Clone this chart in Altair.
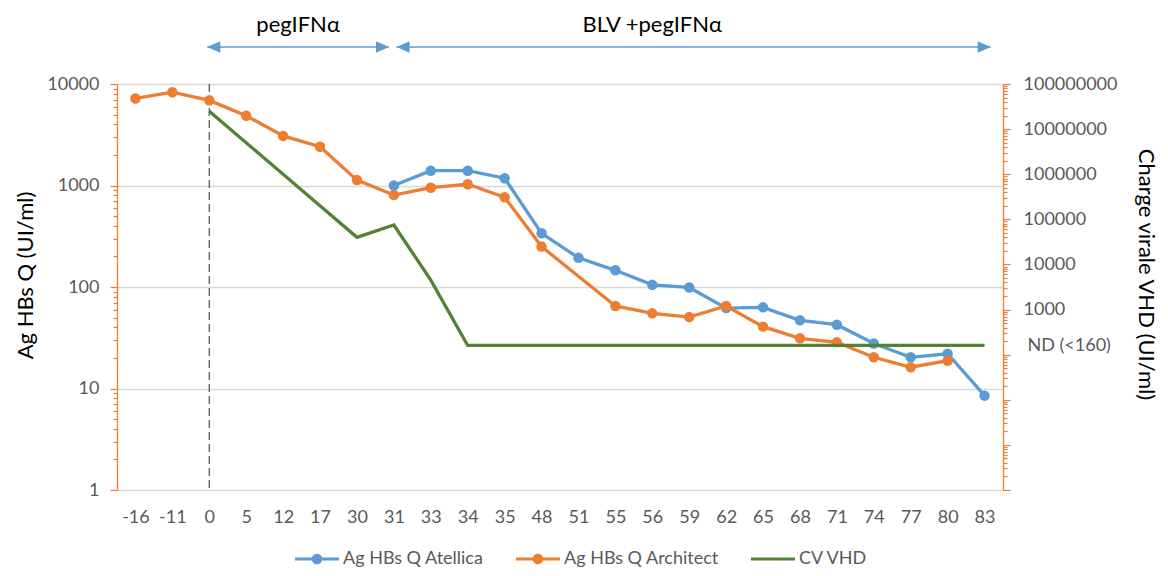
import altair as alt
import pandas as pd

# ---------------- data ----------------
categories = ["-16", "-11", "0", "5", "12", "17", "30", "31", "33", "34", "35", "48",
              "51", "55", "56", "59", "62", "65", "68", "71", "74", "77", "80", "83"]

series_names = ["Ag HBs Q Atellica", "Ag HBs Q Architect", "CV VHD"]

atellica_weeks = ["31", "33", "34", "35", "48", "51", "55", "56", "59", "62", "65",
                  "68", "71", "74", "77", "80", "83"]
atellica_vals = [1000, 1400, 1400, 1180, 338, 194, 146, 105, 99, 62, 63,
                 47, 42.5, 27.7, 20.3, 22, 8.5]

architect_weeks = ["-16", "-11", "0", "5", "12", "17", "30", "31", "33", "34", "35",
                   "48", "55", "56", "59", "62", "65", "68", "71", "74", "77", "80"]
architect_vals = [7200, 8300, 6900, 4870, 3080, 2410, 1130, 806, 952, 1028, 765,
                  250, 65, 55, 50.5, 65, 40.7, 31.2, 28.5, 20.3, 16.2, 18.8]

cv_weeks = ["0", "30", "31", "33", "34", "35", "48", "51", "55", "56", "59", "62",
            "65", "68", "71", "74", "77", "80", "83"]
cv_vals = [25000000, 40000, 75000, 4500, 160, 160, 160, 160, 160, 160, 160, 160,
           160, 160, 160, 160, 160, 160, 160]

start_week = "0"
phase_labels = ["pegIFNα", "BLV +pegIFNα"]
phase_label_weeks = ["12", "56"]
phase_label_dx = [15, 0]
arrow_starts = ["0", "31"]
arrow_ends = ["31", "83"]

left_major = [1, 10, 100, 1000, 10000]
right_major = [0.1, 1, 10, 100, 1000, 10000, 100000, 1000000, 10000000, 100000000]
minor_mult = [2, 3, 4, 5, 6, 7, 8, 9]
nd_value = 160
nd_label = "ND (<160)"

# ---------------- style ----------------
BLUE = "#5B9BD5"
ORANGE = "#ED7D31"
GREEN = "#548235"
GREY = "#595959"
FONT = "Lato"
W, H = 886, 406

left_ticks = list(left_major)
for d in left_major[:-1]:
    left_ticks += [d * m for m in minor_mult]
right_ticks = list(right_major)
for d in right_major[:-1]:
    right_ticks += [d * m for m in minor_mult]
right_ticks.append(nd_value)

dec = "abs(log(datum.value)/LN10 - round(log(datum.value)/LN10)) < 0.001"

x_scale = alt.Scale(type="point", domain=categories, padding=0.5)
x_axis = alt.Axis(title=None, labelAngle=0, labelFont=FONT, labelFontSize=18,
                  labelColor=GREY, ticks=False, tickSize=0, domain=False, grid=False,
                  labelPadding=27, labelBaseline="middle")


def X(field):
    return alt.X(f"{field}:O", scale=x_scale, axis=x_axis)


left_axis = alt.Axis(
    orient="left", values=left_ticks, format="d",
    labelExpr=f"({dec}) ? datum.label : ''",
    tickSize={"condition": {"test": dec, "value": 7}, "value": 4},
    grid=True, gridColor="#D9D9D9", gridWidth=1.3,
    gridOpacity={"condition": {"test": dec, "value": 1}, "value": 0},
    domainColor=ORANGE, domainWidth=1.3, tickColor=ORANGE, tickWidth=1.2,
    labelColor=GREY, labelFont=FONT, labelFontSize=18, labelPadding=11,
    title="Ag HBs Q (UI/ml)", titleFont=FONT, titleFontSize=22,
    titleFontWeight="normal", titleColor="#000000", titleAngle=270,
    titleBaseline="middle", titleAlign="center", titleX=-92, titleY=191,
)

right_axis = alt.Axis(
    orient="right", values=right_ticks,
    labelExpr=(f"datum.value == {nd_value} ? '{nd_label}' : "
               f"((datum.value >= 999 && ({dec})) ? format(datum.value, 'd') : '')"),
    tickSize={"condition": [{"test": f"datum.value == {nd_value}", "value": 11},
                            {"test": dec, "value": 7}], "value": 4},
    tickOpacity={"condition": {"test": f"datum.value == {nd_value}", "value": 0}, "value": 1},
    grid=False, domainColor=ORANGE, domainWidth=1.3, tickColor=ORANGE, tickWidth=1.2,
    labelColor=GREY, labelFont=FONT, labelFontSize=18, labelPadding=13,
    title="Charge virale VHD (UI/ml)", titleFont=FONT, titleFontSize=22,
    titleFontWeight="normal", titleColor="#000000", titleAngle=90,
    titleBaseline="middle", titleAlign="center", titleX=142, titleY=190,
)


def series_df(weeks, vals):
    return pd.DataFrame({"week": weeks, "value": vals,
                         "idx": [categories.index(w) for w in weeks]})


df_at = series_df(atellica_weeks, atellica_vals)
df_ar = series_df(architect_weeks, architect_vals)
df_cv = series_df(cv_weeks, cv_vals)

yL = alt.Y("value:Q", scale=alt.Scale(type="log", domain=[1, 10000], nice=False),
           axis=left_axis)
yR = alt.Y("value:Q", scale=alt.Scale(type="log", domain=[0.1, 100000000], nice=False),
           axis=right_axis)


def line_pts(df, color):
    ln = alt.Chart(df).mark_line(color=color, strokeWidth=3.3).encode(
        x=X("week"), y=yL, order="idx:Q")
    pt = alt.Chart(df).mark_circle(color=color, size=110, opacity=1).encode(
        x=X("week"), y=yL)
    return [ln, pt]


left_layer = alt.layer(*line_pts(df_at, BLUE), *line_pts(df_ar, ORANGE))

green_layer = alt.Chart(df_cv).mark_line(color=GREEN, strokeWidth=3.3).encode(
    x=X("week"), y=yR, order="idx:Q")

dashed = alt.Chart(pd.DataFrame({"week": [start_week]})).mark_rule(
    color=GREY, strokeDash=[8, 4], strokeWidth=1.3).encode(
    x=X("week"), y=alt.value(0), y2=alt.value(H))

# arrows
ARROW_Y = -37
LEFT_HEAD = "M-1,0L1,-0.9L1,0.9Z"
RIGHT_HEAD = "M1,0L-1,-0.9L-1,0.9Z"
arrow_layers = []
tip_offsets = [(-2, -4.9), (2.7, 6.2)]
for (s, e), (o1, o2) in zip(zip(arrow_starts, arrow_ends), tip_offsets):
    d = pd.DataFrame({"a": [s], "b": [e]})
    arrow_layers.append(
        alt.Chart(d).mark_rule(color=BLUE, strokeWidth=1.6, xOffset=o1, x2Offset=o2)
        .encode(x=X("a"), x2=alt.X2("b"), y=alt.value(ARROW_Y)))
    arrow_layers.append(
        alt.Chart(d).mark_point(shape=LEFT_HEAD, filled=True, color=BLUE, size=169,
                                opacity=1, xOffset=o1 + 6.5)
        .encode(x=X("a"), y=alt.value(ARROW_Y)))
    arrow_layers.append(
        alt.Chart(d).mark_point(shape=RIGHT_HEAD, filled=True, color=BLUE, size=169,
                                opacity=1, xOffset=o2 - 6.5)
        .encode(x=X("b"), y=alt.value(ARROW_Y)))

text_layers = []
for lab, wk, dx in zip(phase_labels, phase_label_weeks, phase_label_dx):
    text_layers.append(
        alt.Chart(pd.DataFrame({"week": [wk], "label": [lab]}))
        .mark_text(font=FONT, fontSize=22, color="#000000", baseline="middle",
                   align="center", dx=dx)
        .encode(x=X("week"), y=alt.value(-59), text="label:N"))

# legend (dummy invisible layer carrying the legend)
SYM = 44
P_MARK = ("M-1,-0.073L1,-0.073L1,0.073L-1,0.073Z "
          "M-0.24,0A0.24,0.24 0 1,1 0.24,0A0.24,0.24 0 1,1 -0.24,0Z")
P_LINE = "M-1,-0.073L1,-0.073L1,0.073L-1,0.073Z"
leg = alt.Legend(title=None, orient="none", legendX=178, legendY=453,
                 direction="horizontal", symbolOpacity=1, symbolSize=SYM * SYM,
                 symbolStrokeWidth=0, labelFont=FONT, labelFontSize=18,
                 labelColor=GREY, labelOffset=4, columnPadding=32, padding=0)
legend_layer = alt.Chart(pd.DataFrame({"series": series_names})).mark_point(
    filled=True, opacity=0, size=SYM * SYM).encode(
    color=alt.Color("series:N", scale=alt.Scale(domain=series_names,
                                                range=[BLUE, ORANGE, GREEN]), legend=leg),
    shape=alt.Shape("series:N", scale=alt.Scale(domain=series_names,
                                                range=[P_MARK, P_MARK, P_LINE]), legend=leg),
)

chart = alt.layer(
    dashed, left_layer, *arrow_layers, *text_layers, legend_layer, green_layer
).resolve_scale(y="independent").properties(
    width=W, height=H,
    padding={"left": 109, "top": 76, "right": 157, "bottom": 78},
    autosize=alt.AutoSizeParams(type="none"),
    background="white",
).configure_view(stroke="transparent")

chart.save("out.html", embed_options={"renderer": "svg", "actions": False})
